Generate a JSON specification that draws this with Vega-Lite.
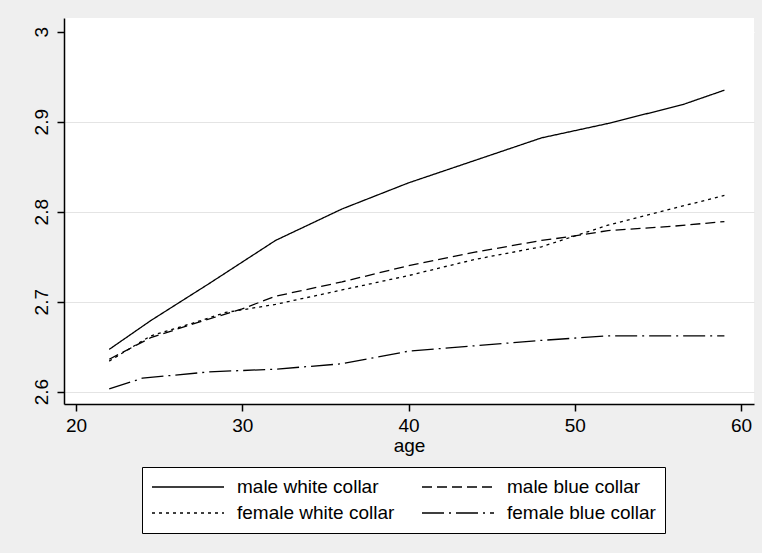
{
  "$schema": "https://vega.github.io/schema/vega-lite/v6.json",
  "width": 690,
  "height": 386,
  "autosize": {"type": "none"},
  "padding": {"left": 64, "top": 18, "right": 8, "bottom": 149},
  "background": "#efefef",
  "config": {
    "view": {"fill": "white", "stroke": null},
    "font": "Liberation Sans",
    "axis": {
      "labelFont": "Liberation Sans", "labelFontSize": 19, "labelColor": "black",
      "titleFont": "Liberation Sans", "titleFontSize": 19, "titleColor": "black", "titleFontWeight": "normal",
      "domainColor": "black", "domainWidth": 1.5, "tickColor": "black", "tickWidth": 1.5, "tickSize": 7
    },
    "legend": {
      "labelFont": "Liberation Sans", "labelFontSize": 19, "labelColor": "black"
    }
  },
  "data": {
    "values": [
      {"age": 22, "value": 2.647, "series": "male white collar"},
      {"age": 24.5, "value": 2.679, "series": "male white collar"},
      {"age": 28, "value": 2.720, "series": "male white collar"},
      {"age": 32, "value": 2.768, "series": "male white collar"},
      {"age": 36, "value": 2.803, "series": "male white collar"},
      {"age": 40, "value": 2.832, "series": "male white collar"},
      {"age": 44, "value": 2.857, "series": "male white collar"},
      {"age": 48, "value": 2.882, "series": "male white collar"},
      {"age": 50, "value": 2.890, "series": "male white collar"},
      {"age": 52, "value": 2.898, "series": "male white collar"},
      {"age": 55, "value": 2.912, "series": "male white collar"},
      {"age": 56.5, "value": 2.919, "series": "male white collar"},
      {"age": 59, "value": 2.935, "series": "male white collar"},
      {"age": 22, "value": 2.636, "series": "male blue collar"},
      {"age": 24.5, "value": 2.660, "series": "male blue collar"},
      {"age": 27, "value": 2.675, "series": "male blue collar"},
      {"age": 30, "value": 2.692, "series": "male blue collar"},
      {"age": 32, "value": 2.706, "series": "male blue collar"},
      {"age": 36, "value": 2.722, "series": "male blue collar"},
      {"age": 40, "value": 2.740, "series": "male blue collar"},
      {"age": 44, "value": 2.755, "series": "male blue collar"},
      {"age": 48, "value": 2.768, "series": "male blue collar"},
      {"age": 50, "value": 2.773, "series": "male blue collar"},
      {"age": 52, "value": 2.779, "series": "male blue collar"},
      {"age": 56, "value": 2.784, "series": "male blue collar"},
      {"age": 59, "value": 2.789, "series": "male blue collar"},
      {"age": 22, "value": 2.634, "series": "female white collar"},
      {"age": 24.5, "value": 2.662, "series": "female white collar"},
      {"age": 27, "value": 2.676, "series": "female white collar"},
      {"age": 29, "value": 2.688, "series": "female white collar"},
      {"age": 32, "value": 2.697, "series": "female white collar"},
      {"age": 36, "value": 2.713, "series": "female white collar"},
      {"age": 40, "value": 2.729, "series": "female white collar"},
      {"age": 44, "value": 2.747, "series": "female white collar"},
      {"age": 48, "value": 2.761, "series": "female white collar"},
      {"age": 50, "value": 2.773, "series": "female white collar"},
      {"age": 52, "value": 2.785, "series": "female white collar"},
      {"age": 56, "value": 2.804, "series": "female white collar"},
      {"age": 59, "value": 2.818, "series": "female white collar"},
      {"age": 22, "value": 2.603, "series": "female blue collar"},
      {"age": 24, "value": 2.615, "series": "female blue collar"},
      {"age": 28, "value": 2.622, "series": "female blue collar"},
      {"age": 32, "value": 2.625, "series": "female blue collar"},
      {"age": 36, "value": 2.631, "series": "female blue collar"},
      {"age": 40, "value": 2.645, "series": "female blue collar"},
      {"age": 44, "value": 2.651, "series": "female blue collar"},
      {"age": 48, "value": 2.657, "series": "female blue collar"},
      {"age": 52, "value": 2.662, "series": "female blue collar"},
      {"age": 56, "value": 2.662, "series": "female blue collar"},
      {"age": 59, "value": 2.662, "series": "female blue collar"}
    ]
  },
  "mark": {"type": "line", "color": "black", "strokeWidth": 1.3},
  "encoding": {
    "x": {
      "field": "age", "type": "quantitative",
      "scale": {"domain": [19.28, 60.78], "nice": false, "zero": false},
      "axis": {"values": [20, 30, 40, 50, 60], "grid": false, "title": "age", "labelPadding": 5, "titlePadding": 1}
    },
    "y": {
      "field": "value", "type": "quantitative",
      "scale": {"domain": [2.5863, 3.0152], "nice": false, "zero": false},
      "axis": {
        "values": [2.6, 2.7, 2.8, 2.9, 3], "format": ".1~f", "title": null,
        "labelAngle": -90, "labelAlign": "center", "labelBaseline": "alphabetic", "labelPadding": 10,
        "grid": true, "gridColor": {"condition": {"test": "datum.value >= 2.95", "value": "white"}, "value": "#e4e4e4"}, "gridWidth": 1.2
      }
    },
    "strokeDash": {
      "field": "series", "type": "nominal",
      "scale": {
        "domain": ["male white collar", "male blue collar", "female white collar", "female blue collar"],
        "range": [[1, 0], [10, 5], [3, 4], [22, 5, 2, 5]]
      },
      "legend": {
        "title": null, "orient": "none", "legendX": 78, "legendY": 449,
        "columns": 2, "direction": "horizontal", "symbolType": "stroke", "symbolSize": 5184,
        "clipHeight": 22,
        "symbolStrokeWidth": 1.3, "symbolStrokeColor": "black",
        "labelOffset": 12, "columnPadding": 26, "rowPadding": 4,
        "padding": 9, "strokeColor": "black", "fillColor": "white", "labelLimit": 400
      }
    }
  }
}
